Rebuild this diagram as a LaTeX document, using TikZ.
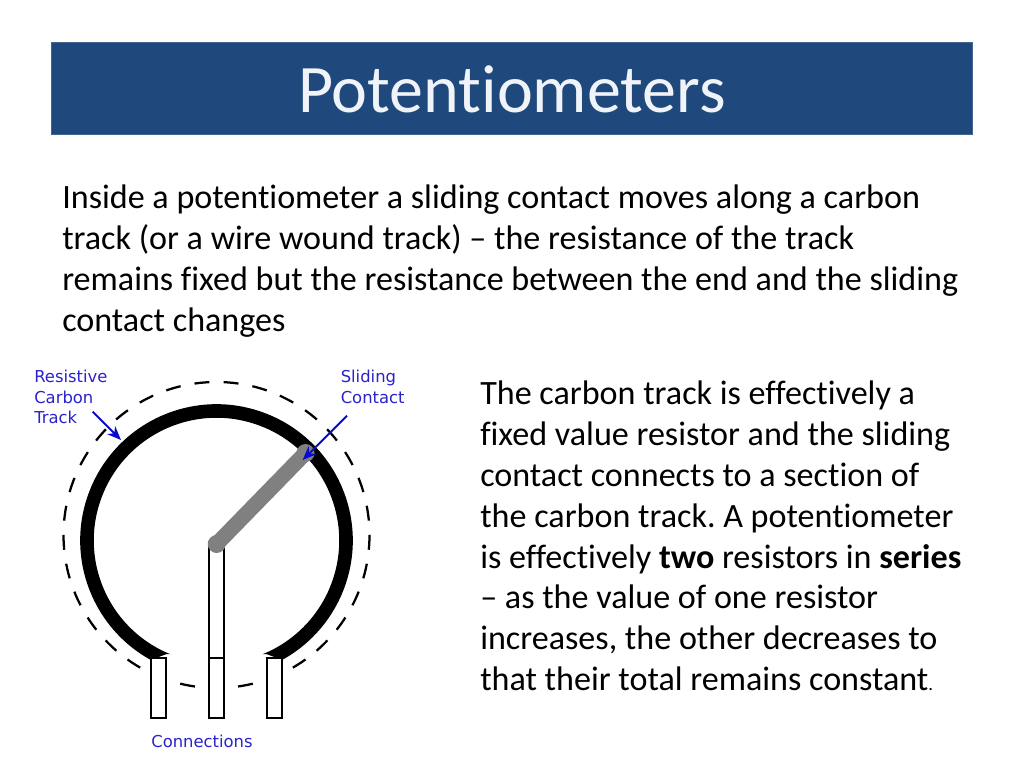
\documentclass[tikz,border=0pt]{standalone}
\usepackage{fontspec}
\setmainfont[Ligatures=NoCommon]{Carlito}
\newfontfamily\labelfont{DejaVu Sans}
\usetikzlibrary{arrows.meta,calc}
\frenchspacing
\definecolor{bandblue}{HTML}{1F497D}
\definecolor{titlewhite}{HTML}{F0F4F8}
\definecolor{labelblue}{HTML}{2A22CC}
\definecolor{arrowblue}{HTML}{0A0ACC}
\tikzstyle{band} =
  [ rectangle
  , fill=bandblue
  , draw=bandblue!85!white
  , line width=0.75pt
  , minimum width=691pt
  , minimum height=69pt
  , text=titlewhite
  , font=\fontsize{51}{56}\selectfont
  ]
\tikzstyle{bodytext} =
  [ anchor=north west
  , inner sep=0pt
  , align=left
  , text=black
  , font=\fontsize{25.57}{30.6}\selectfont
  ]
\tikzstyle{partlabel} =
  [ inner sep=0pt
  , align=left
  , text=labelblue
  , font=\labelfont\fontsize{12.3}{15.4}\selectfont
  ]
\tikzstyle{terminal} =
  [ rectangle
  , draw=black
  , fill=white
  , line width=1.5pt
  , minimum width=11pt
  , inner sep=0pt
  ]
\tikzstyle{pointer} =
  [ draw=arrowblue
  , line width=1.5pt
  , -{Stealth[length=10.5pt,width=8.5pt]}
  ]

\begin{document}
\begin{tikzpicture}[x=0.75pt,y=0.75pt]
    \useasboundingbox (0,0) rectangle (1024,768);

    \node[band] (title) at (512,679) {Potentiometers};

    \node[bodytext] (intro) at (62,583)
      {Inside a potentiometer a sliding contact moves along a carbon\\
       track (or a wire wound track) -- the resistance of the track\\
       remains fixed but the resistance between the end and the sliding\\
       contact changes};
    \node[bodytext] (explain) at (480,387)
      {The carbon track is effectively a\\
       fixed value resistor and the sliding\\
       contact connects to a section of\\
       the carbon track. A potentiometer\\
       is effectively \textbf{two} resistors in \textbf{series}\\
       -- as the value of one resistor\\
       increases, the other decreases to\\
       that their total remains constant{\fontsize{14}{14}\selectfont.}};

    \coordinate (centre) at (216.5,227.5);
    \coordinate (guide) at (216.5,233);

    % outer guide circle, first dash centred at the bottom
    \draw[line width=1.7pt,dash pattern=on 11.25pt off 10.6pt,dash phase=5.6pt]
      (guide) ++(-90:153) arc[start angle=-90,end angle=270,radius=153];
    % carbon track, ends cut off just above the pins
    \begin{scope}
      \clip (0,108) -- (150.7,108) -- (166.7,114) -- (266.3,114) -- (282.3,108) -- (1024,108) -- (1024,768) -- (0,768) -- cycle;
      \draw[line width=10.2pt] (centre) ++(250:129.5) arc[start angle=250,end angle=-70,radius=129.5];
    \end{scope}

    \node[terminal,minimum height=45pt,anchor=south] (left_pin)   at (158.5,49) {};
    \node[terminal,minimum height=45pt,anchor=south] (middle_pin) at (216.5,49) {};
    \node[terminal,minimum height=45pt,anchor=south] (right_pin)  at (274.5,49) {};
    \node[terminal,minimum height=87pt,anchor=south,yshift=-1.5pt] (spindle) at (middle_pin.north) {};

    \coordinate (wiper_root) at (216.7,224);
    \coordinate (wiper_tip)  at (305.5,315);
    \draw[line width=11.5pt,draw=black!50] (wiper_root) -- (wiper_tip);
    \fill[black!50] (wiper_root) circle (9);
    \fill[black!50] (wiper_tip) circle (9);

    \node[partlabel,anchor=north west] (track_label)   at (34,398) {Resistive\\Carbon\\Track};
    \node[partlabel,anchor=north west] (contact_label) at (340.5,398) {Sliding\\Contact};
    \node[partlabel,anchor=base] (connections_label) at (202,21) {Connections};

    \coordinate (track_from)   at (92.7,356.3);
    \coordinate (track_to)     at (121,328);
    \coordinate (contact_from) at (347,352.3);
    \coordinate (contact_to)   at (302.7,308);
    \draw[pointer] (track_from) -- (track_to);
    \draw[pointer] (contact_from) -- (contact_to);
  \end{tikzpicture}
\end{document}
